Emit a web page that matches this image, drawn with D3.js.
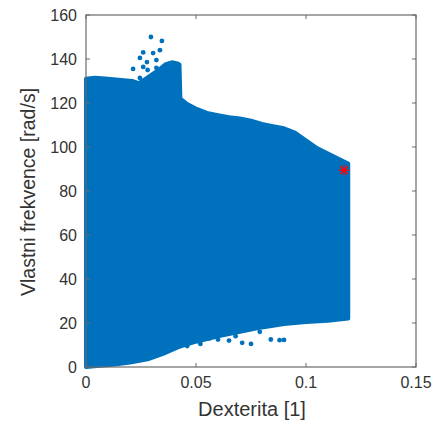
<!DOCTYPE html>
<html><head><meta charset="utf-8">
<script src="https://cdn.jsdelivr.net/npm/d3@7"></script>
<style>body{margin:0;background:#fff}svg{display:block}text{font-family:"Liberation Sans",Arial,Helvetica,sans-serif;fill:#333}</style>
</head><body>
<script>
// Upper envelope of the dense scatter cloud (Dexterita, Vlastni frekvence)
const upperX = [0,0.004,0.01,0.016,0.021,0.024,0.027,0.03,0.033,0.036,0.039,0.0415,0.0425,0.0429,0.046,0.05,0.055,0.06,0.065,0.07,0.075,0.08,0.085,0.09,0.095,0.1,0.105,0.11,0.115,0.1192];
const upperY = [131,131.5,131,130.5,130,129,131,133,135,137.5,138.5,138,137.5,122,119.5,117.5,115.5,114.5,113.5,113,112,110.5,109.5,108.5,106.5,103,99.5,97,94.5,92.5];
// Lower envelope of the cloud
const lowerX = [0,0.005,0.012,0.02,0.028,0.035,0.042,0.05,0.06,0.07,0.08,0.09,0.1,0.11,0.1192];
const lowerY = [0,0.5,1,2,3.5,6,9,11.5,14,16,18,19.5,20.5,21,22];
// Isolated points outside the envelope
const outX = [0.0295,0.0345,0.026,0.0336,0.0305,0.032,0.0245,0.0277,0.0214,0.028,0.026,0.032,0.03,0.0245,0.065,0.071,0.075,0.084,0.088,0.09,0.056,0.06,0.046,0.052,0.068,0.079];
const outY = [150,148.2,143,144,142.7,139.5,140.5,138.6,135.5,135,136.4,136,132,131.4,12,11,10.5,12.5,12.2,12.3,13,12.5,9.5,10.5,14,16];
// Highlighted optimum
const starX = [0.1173];
const starY = [89.5];
const xTicks = [0,0.05,0.1,0.15];
const yTicks = [0,20,40,60,80,100,120,140,160];

const W=437,H=429, L=86, T=15, R=416, B=367;
const svg=d3.select("body").append("svg").attr("width",W).attr("height",H);
const x=d3.scaleLinear().domain([0,0.15]).range([L,R]);
const y=d3.scaleLinear().domain([0,160]).range([B,T]);
const blue="#0072BD";
const axc="#6a6a6a";

const g=svg.append("g");
const poly=upperX.map((v,i)=>[x(v),y(upperY[i])]).concat(lowerX.map((v,i)=>[x(v),y(lowerY[i])]).reverse());
g.append("path").attr("d",d3.line()(poly)+"Z").attr("fill",blue).attr("stroke",blue).attr("stroke-width",4).attr("stroke-linejoin","round");
g.selectAll("circle.o").data(outX).join("circle").attr("cx",(d)=>x(d)).attr("cy",(d,i)=>y(outY[i])).attr("r",2.4).attr("fill",blue);

// axes box
const ax=svg.append("g");
ax.append("rect").attr("x",L).attr("y",T).attr("width",R-L).attr("height",B-T).attr("fill","none").attr("stroke",axc).attr("stroke-width",1.2);
const tl=4;
xTicks.forEach(t=>{
  ax.append("line").attr("x1",x(t)).attr("x2",x(t)).attr("y1",B).attr("y2",B-tl).attr("stroke",axc);
  ax.append("line").attr("x1",x(t)).attr("x2",x(t)).attr("y1",T).attr("y2",T+tl).attr("stroke",axc);
  ax.append("text").attr("x",x(t)).attr("y",B+21).attr("text-anchor","middle").attr("font-size",16).text(t===0?"0":String(t));
});
yTicks.forEach(t=>{
  ax.append("line").attr("x1",L).attr("x2",L+tl).attr("y1",y(t)).attr("y2",y(t)).attr("stroke",axc);
  ax.append("line").attr("x1",R).attr("x2",R-tl).attr("y1",y(t)).attr("y2",y(t)).attr("stroke",axc);
  ax.append("text").attr("x",L-9).attr("y",y(t)+5.5).attr("text-anchor","end").attr("font-size",16).text(t);
});

// star marker
svg.append("g").selectAll("path").data(starX).join("path")
  .attr("transform",(d,i)=>`translate(${x(d)},${y(starY[i])})`)
  .attr("d",()=>{const r=5.5,s=r*Math.SQRT1_2;return `M${-r},0L${r},0M0,${-r}L0,${r}M${-s},${-s}L${s},${s}M${-s},${s}L${s},${-s}`;})
  .attr("stroke","#FF0000").attr("stroke-width",1.3).attr("fill","none");

svg.append("text").attr("x",(L+R)/2+1).attr("y",416).attr("text-anchor","middle").attr("font-size",20).text("Dexterita [1]");
svg.append("text").attr("transform",`translate(35,${(T+B)/2+1}) rotate(-90)`).attr("text-anchor","middle").attr("font-size",19.5).text("Vlastni frekvence [rad/s]");
</script>
</body></html>
